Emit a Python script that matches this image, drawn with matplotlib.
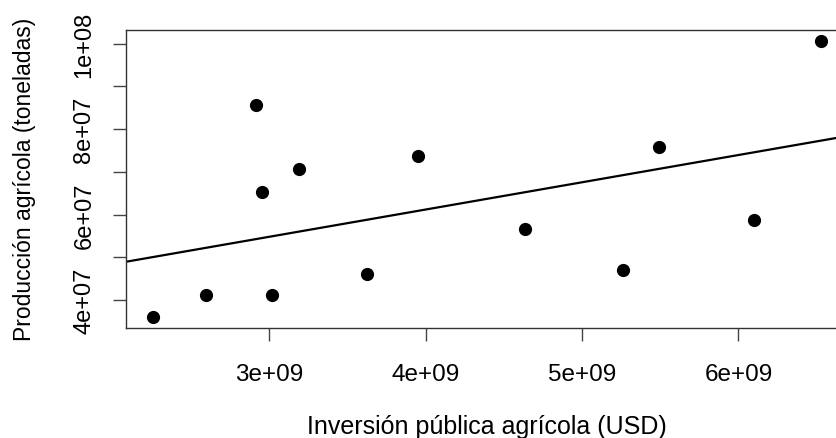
import numpy as np
import matplotlib
matplotlib.use('Agg')
import matplotlib.pyplot as plt

plt.rcParams['font.family'] = ['Liberation Sans', 'DejaVu Sans']

# inversión pública agrícola (USD) y producción agrícola (toneladas)
inversion = [2.257e9, 2.596e9, 3.017e9, 2.915e9, 2.953e9, 3.194e9, 3.950e9,
             3.626e9, 4.634e9, 5.264e9, 5.490e9, 6.097e9, 6.527e9]
produccion = [3.595e7, 4.124e7, 4.124e7, 8.574e7, 6.522e7, 7.068e7, 7.365e7,
              4.609e7, 5.656e7, 4.696e7, 7.583e7, 5.867e7, 10.066e7]

x_ticks = [3e9, 4e9, 5e9, 6e9]
x_labels = ['3e+09', '4e+09', '5e+09', '6e+09']
y_ticks = [4e7, 5e7, 6e7, 7e7, 8e7, 9e7, 1e8]
y_labels = ['4e+07', '', '6e+07', '', '8e+07', '', '1e+08']

fig = plt.figure(figsize=(8.36, 4.39), dpi=100)
ax = fig.add_axes([126 / 836, 1 - 329 / 439, 722 / 836, 298 / 439])

ax.scatter(inversion, produccion, s=72, color='black', zorder=3)

# recta de regresión lineal
b, a = np.polyfit(inversion, produccion, 1)
xs = np.array([1e9, 8e9])
ax.plot(xs, a + b * xs, color='black', lw=1.6)

ax.set_xlim(2.086e9, 6.70e9)
ax.set_ylim(3.344e7, 1.032e8)

ax.set_xticks(x_ticks)
ax.set_xticklabels(x_labels, fontsize=17.5)
ax.set_yticks(y_ticks)
ax.set_yticklabels(y_labels, rotation=90, va='center', fontsize=17)
ax.tick_params(axis='both', length=9.5, width=1, color='#444444')
ax.tick_params(axis='x', pad=15.5)
ax.tick_params(axis='y', pad=12.5)

for s in ax.spines.values():
    s.set_linewidth(1)
    s.set_color('#333333')

ax.set_xlabel('Inversión pública agrícola (USD)', fontsize=18, va='center')
ax.xaxis.set_label_coords(487 / 836, 1 - 427 / 439, transform=fig.transFigure)
ax.set_ylabel('Producción agrícola (toneladas)', fontsize=16.5, va='center')
ax.yaxis.set_label_coords(25 / 836, 1 - 179 / 439, transform=fig.transFigure)

fig.savefig('out.png', dpi=100)
